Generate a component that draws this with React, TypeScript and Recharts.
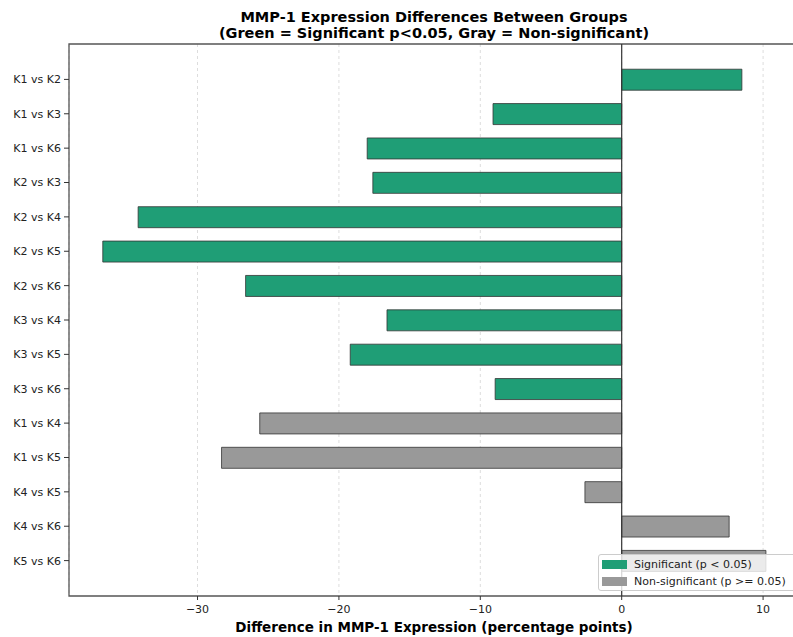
import React from 'react';
import { BarChart, Bar, XAxis, YAxis, CartesianGrid, ReferenceLine, ReferenceArea, Cell } from 'recharts';

const categories = [
  'K1 vs K2', 'K1 vs K3', 'K1 vs K6', 'K2 vs K3', 'K2 vs K4', 'K2 vs K5', 'K2 vs K6',
  'K3 vs K4', 'K3 vs K5', 'K3 vs K6', 'K1 vs K4', 'K1 vs K5', 'K4 vs K5', 'K4 vs K6', 'K5 vs K6',
];
const differences = [8.5, -9.1, -18.0, -17.6, -34.2, -36.7, -26.6, -16.6, -19.2, -8.95, -25.6, -28.3, -2.6, 7.6, 10.2];
const significant = [true, true, true, true, true, true, true, true, true, true, false, false, false, false, false];
const xTicks = [-30, -20, -10, 0, 10];

const GREEN = '#1f9e76';
const GRAY = '#999999';
const FONT = '"DejaVu Sans", sans-serif';
const X_MIN = -39.09;
const X_MAX = 12.54;
const Y_MIN = -1.03;
const Y_MAX = 15.03;

const data = categories.map((name, i) => ({ idx: i, name, value: differences[i], sig: significant[i] }));
const yTicks = categories.map((_, i) => i);

const fmt = (v: number) => (v < 0 ? '\u2212' + Math.abs(v) : String(v));

export default function App() {
  return (
    <div style={{ position: 'absolute', left: 0, top: 0, width: 793, height: 637, overflow: 'hidden', background: '#fff', fontFamily: FONT }}>
      <div style={{ position: 'absolute', left: 69, width: 730, top: 9, textAlign: 'center', fontWeight: 'bold', fontSize: 14.5, lineHeight: '16px', color: '#000' }}>
        <div>MMP-1 Expression Differences Between Groups</div>
        <div>(Green = Significant p&lt;0.05, Gray = Non-significant)</div>
      </div>
      <BarChart layout="vertical" width={810} height={637} data={data} margin={{ top: 44, right: 11, bottom: 0, left: 0 }}>
        <CartesianGrid horizontal={false} vertical strokeDasharray="3 3" stroke="#dddddd" />
        <XAxis
          type="number"
          domain={[X_MIN, X_MAX]}
          ticks={xTicks}
          allowDataOverflow
          height={41}
          axisLine={false}
          tickSize={4}
          tickMargin={5}
          tickLine={{ stroke: '#333' }}
          tick={{ fontSize: 11, fill: '#222', fontFamily: FONT }}
          tickFormatter={fmt}
        />
        <YAxis
          type="number"
          dataKey="idx"
          domain={[Y_MIN, Y_MAX]}
          allowDataOverflow
          ticks={yTicks}
          interval={0}
          width={69}
          axisLine={false}
          tickSize={5}
          tickMargin={3}
          tickLine={{ stroke: '#333' }}
          tick={{ fontSize: 11, fill: '#222', fontFamily: FONT }}
          tickFormatter={(i: number) => categories[i] ?? ''}
        />
        <Bar dataKey="value" barSize={21} stroke="#333" strokeWidth={0.8} isAnimationActive={false}>
          {data.map((d, i) => (
            <Cell key={i} fill={d.sig ? GREEN : GRAY} />
          ))}
        </Bar>
        <ReferenceLine x={0} stroke="#333" strokeWidth={1.2} />
        <ReferenceArea x1={X_MIN} x2={X_MAX} y1={Y_MIN} y2={Y_MAX} fill="none" stroke="#555" strokeWidth={1.3} />
      </BarChart>
      <div style={{ position: 'absolute', left: 598, top: 554, width: 200, height: 37, boxSizing: 'border-box', border: '1px solid #ccc', borderRadius: 3, background: 'rgba(255,255,255,0.8)', fontSize: 11, color: '#222' }}>
        <div style={{ position: 'absolute', left: 3, top: 5, width: 25, height: 9, background: GREEN }} />
        <div style={{ position: 'absolute', left: 35, top: 2.5, lineHeight: '13px', whiteSpace: 'nowrap' }}>Significant (p &lt; 0.05)</div>
        <div style={{ position: 'absolute', left: 3, top: 22, width: 25, height: 9, background: GRAY }} />
        <div style={{ position: 'absolute', left: 35, top: 19.5, lineHeight: '13px', whiteSpace: 'nowrap' }}>Non-significant (p &gt;= 0.05)</div>
      </div>
      <div style={{ position: 'absolute', left: 69, width: 730, top: 619, textAlign: 'center', fontWeight: 'bold', fontSize: 13.5, lineHeight: '16px', color: '#000' }}>
        Difference in MMP-1 Expression (percentage points)
      </div>
    </div>
  );
}
